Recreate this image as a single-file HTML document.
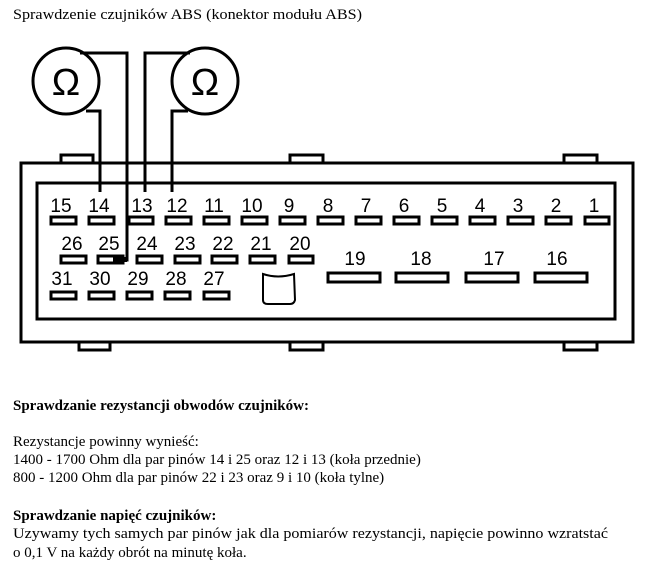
<!DOCTYPE html>
<html><head><meta charset="utf-8"><style>
body{margin:0;background:#fff;width:656px;height:572px;overflow:hidden}
svg{display:block}
.t{font-family:"Liberation Serif",serif;font-size:15px;fill:#000}
.n{font-family:"Liberation Sans",sans-serif;font-size:19px;fill:#000}
</style></head><body>
<svg width="656" height="572" viewBox="0 0 656 572" xmlns="http://www.w3.org/2000/svg">
<text class="t" x="13" y="19" textLength="349" lengthAdjust="spacingAndGlyphs">Sprawdzenie czujników ABS (konektor modułu ABS)</text>
<g fill="none" stroke="#000" stroke-width="3">
<rect x="61" y="155" width="32" height="8"/><rect x="290" y="155" width="33" height="8"/><rect x="564" y="155" width="33" height="8"/>
<rect x="79" y="342" width="31" height="8"/><rect x="290" y="342" width="33" height="8"/><rect x="564" y="342" width="33" height="8"/>
<rect x="21" y="163" width="612" height="179" fill="#fff"/>
<rect x="37" y="183" width="578" height="136"/>
<circle cx="66" cy="81" r="33"/><circle cx="205" cy="81" r="33"/>
<polyline points="80,53 127,53 127,260 113,260"/>
<polyline points="86,111 100,111 100,192"/>
<polyline points="145,192 145,53 190,53"/>
<polyline points="188,111 172,111 172,192"/>
<path d="M263,274 Q278,279 294,274 L295,300 Q294,304 290,304 L268,304 Q263,304 263,300 Z" stroke-width="2"/>
</g>
<g fill="#fff" stroke="#000" stroke-width="3">
<rect x="51" y="217" width="25" height="7"/><rect x="89" y="217" width="25" height="7"/><rect x="129" y="217" width="24" height="7"/><rect x="166" y="217" width="25" height="7"/><rect x="204" y="217" width="25" height="7"/><rect x="242" y="217" width="25" height="7"/><rect x="280" y="217" width="25" height="7"/><rect x="318" y="217" width="25" height="7"/><rect x="356" y="217" width="25" height="7"/><rect x="394" y="217" width="25" height="7"/><rect x="432" y="217" width="25" height="7"/><rect x="470" y="217" width="25" height="7"/><rect x="508" y="217" width="25" height="7"/><rect x="546" y="217" width="25" height="7"/><rect x="585" y="217" width="24" height="7"/>
<rect x="61" y="256" width="25" height="7"/><rect x="98" y="256" width="25" height="7"/><rect x="137" y="256" width="25" height="7"/><rect x="175" y="256" width="25" height="7"/><rect x="212" y="256" width="25" height="7"/><rect x="250" y="256" width="25" height="7"/><rect x="289" y="256" width="24" height="7"/>
<rect x="51" y="292" width="25" height="7"/><rect x="89" y="292" width="25" height="7"/><rect x="127" y="292" width="25" height="7"/><rect x="165" y="292" width="25" height="7"/><rect x="204" y="292" width="25" height="7"/>
<rect x="328" y="273" width="52" height="9"/><rect x="396" y="273" width="52" height="9"/><rect x="466" y="273" width="52" height="9"/><rect x="535" y="273" width="52" height="9"/>
</g>
<rect x="113" y="257" width="14" height="5" fill="#000"/>
<g font-family="Liberation Sans,sans-serif" font-size="38" text-anchor="middle"><text x="66" y="95">Ω</text><text x="205" y="95">Ω</text></g>
<g class="n" text-anchor="middle">
<text x="61" y="212">15</text><text x="99" y="212">14</text><text x="142" y="212">13</text><text x="177" y="212">12</text><text x="214" y="212">11</text><text x="252" y="212">10</text><text x="289" y="212">9</text><text x="328" y="212">8</text><text x="366" y="212">7</text><text x="404" y="212">6</text><text x="442" y="212">5</text><text x="480" y="212">4</text><text x="518" y="212">3</text><text x="556" y="212">2</text><text x="594" y="212">1</text>
<text x="72" y="250">26</text><text x="109" y="250">25</text><text x="147" y="250">24</text><text x="185" y="250">23</text><text x="223" y="250">22</text><text x="261" y="250">21</text><text x="300" y="250">20</text>
<text x="355" y="265">19</text><text x="421" y="265">18</text><text x="494" y="265">17</text><text x="557" y="265">16</text>
<text x="62" y="285">31</text><text x="100" y="285">30</text><text x="138" y="285">29</text><text x="176" y="285">28</text><text x="214" y="285">27</text>
</g>
<g class="t">
<text x="13" y="410" font-weight="bold">Sprawdzanie rezystancji obwodów czujników:</text>
<text x="13" y="446">Rezystancje powinny wynieść:</text>
<text x="13" y="464">1400 - 1700 Ohm dla par pinów 14 i 25 oraz 12 i 13 (koła przednie)</text>
<text x="13" y="482">800 - 1200 Ohm dla par pinów 22 i 23 oraz 9 i 10 (koła tylne)</text>
<text x="13" y="520" font-weight="bold">Sprawdzanie napięć czujników:</text>
<text x="13" y="538" textLength="595" lengthAdjust="spacingAndGlyphs">Uzywamy tych samych par pinów jak dla pomiarów rezystancji, napięcie powinno wzratstać</text>
<text x="13" y="557">o 0,1 V na każdy obrót na minutę koła.</text>
</g>
</svg>
</body></html>
